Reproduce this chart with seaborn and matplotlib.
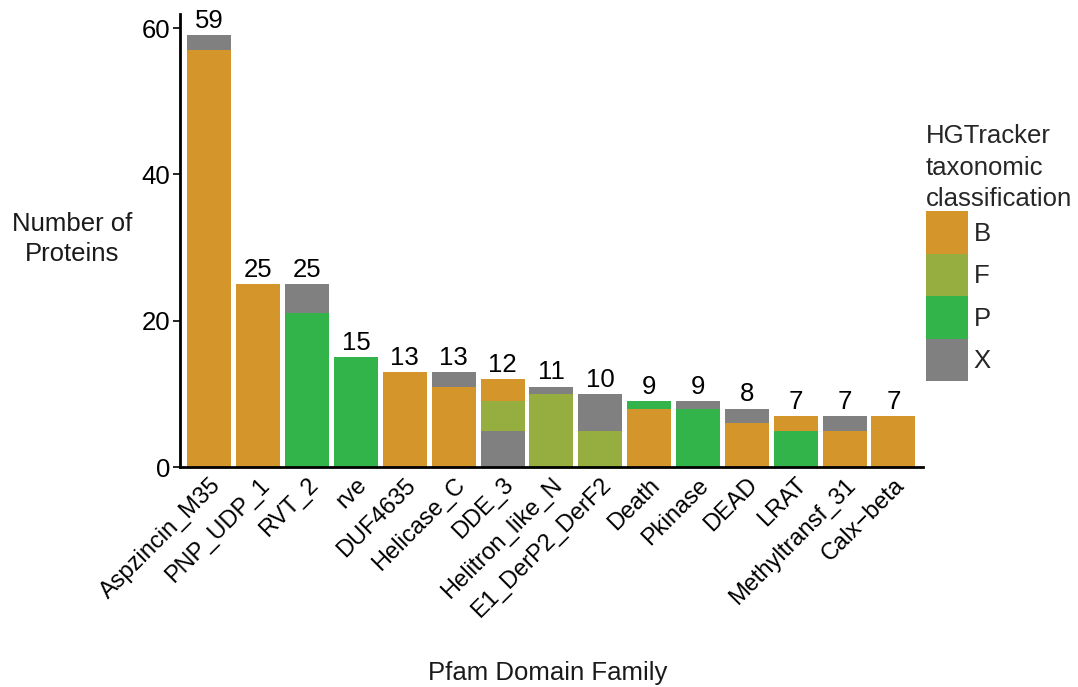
import numpy as np
import pandas as pd
import matplotlib
matplotlib.use("Agg")
import matplotlib.pyplot as plt
from matplotlib.patches import Patch
import seaborn as sns

# Pfam domain families, in display order
families = ["Aspzincin_M35", "PNP_UDP_1", "RVT_2", "rve", "DUF4635", "Helicase_C",
            "DDE_3", "Helitron_like_N", "E1_DerP2_DerF2", "Death", "Pkinase",
            "DEAD", "LRAT", "Methyltransf_31", "Calx\u2212beta"]

# Stacked segments per family, listed from the bottom of the bar upward
seg_classes = [["B", "X"], ["B"], ["P", "X"], ["P"], ["B"], ["B", "X"],
               ["X", "F", "B"], ["F", "X"], ["F", "X"], ["B", "P"], ["P", "X"],
               ["B", "X"], ["P", "B"], ["B", "X"], ["B"]]
seg_counts = [[57, 2], [25], [21, 4], [15], [13], [11, 2],
              [5, 4, 3], [10, 1], [5, 5], [8, 1], [8, 1],
              [6, 2], [5, 2], [5, 2], [7]]

classes = ["B", "F", "P", "X"]
palette = {"B": "#D4952A", "F": "#95AE3F", "P": "#32B44B", "X": "#808080"}

# Long table: one row per family and class, with the stacked bottom offset
rows = []
for fam, cls_list, cnt_list in zip(families, seg_classes, seg_counts):
    base = 0
    for c, n in zip(cls_list, cnt_list):
        rows.append({"family": fam, "cls": c, "count": n, "bottom": base})
        base += n
df = pd.DataFrame(rows)
totals = df.groupby("family", sort=False)["count"].sum().reindex(families)

sns.set_style("ticks")
plt.rcParams["font.family"] = ["Liberation Sans", "DejaVu Sans"]
FS = 18.5

fig = plt.figure(figsize=(10.78, 6.87), dpi=100)
ax = fig.add_axes([0.167, 0.320, 0.689, 0.660])

for c in classes:
    sub = df[df["cls"] == c].set_index("family").reindex(families)
    heights = sub["count"].fillna(0).to_numpy()
    bottoms = sub["bottom"].fillna(0).to_numpy()
    plot_df = pd.DataFrame({"family": families, "count": heights})
    sns.barplot(data=plot_df, x="family", y="count", order=families,
                color=palette[c], saturation=1, width=0.9, errorbar=None,
                bottom=bottoms, linewidth=0, ax=ax)

for i, fam in enumerate(families):
    ax.text(i, totals[fam] + 0.3, f"{int(totals[fam])}", ha="center",
            va="bottom", fontsize=FS, color="black")

ax.set_xlim(-0.6, len(families) - 0.4)
ax.set_ylim(0, 61.95)
ax.set_yticks([0, 20, 40, 60])
ax.tick_params(axis="y", labelsize=FS, length=5, width=1.2, colors="black", pad=2)
ax.tick_params(axis="x", labelsize=17, length=0, pad=5, colors="black")
plt.setp(ax.get_xticklabels(), rotation=45, ha="right", rotation_mode="anchor")
sns.despine(ax=ax)
for s in ["left", "bottom"]:
    ax.spines[s].set_linewidth(2)
    ax.spines[s].set_color("black")
ax.set_xlabel("")
ax.set_ylabel("")

fig.text(72 / 1078, 1 - 239 / 687, "Number of\nProteins", ha="center",
         va="center", multialignment="center", fontsize=FS, color="#1a1a1a",
         linespacing=1.3)
fig.text(548 / 1078, 1 - 673 / 687, "Pfam Domain Family", ha="center",
         va="center", fontsize=FS, color="#1a1a1a")

handles = [Patch(facecolor=palette[c], edgecolor="none", label=c) for c in classes]
leg = fig.legend(handles=handles, title="HGTracker\ntaxonomic\nclassification",
                 loc="upper left", bbox_to_anchor=(926 / 1078, 1 - 124 / 687),
                 frameon=False, fontsize=FS, title_fontsize=FS,
                 handlelength=1.65, handleheight=2.17, labelspacing=0.0,
                 handletextpad=0.2, borderpad=0, borderaxespad=0)
leg._legend_box.align = "left"
leg.get_title().set_linespacing(1.4)

fig.savefig("out.png", dpi=100)
